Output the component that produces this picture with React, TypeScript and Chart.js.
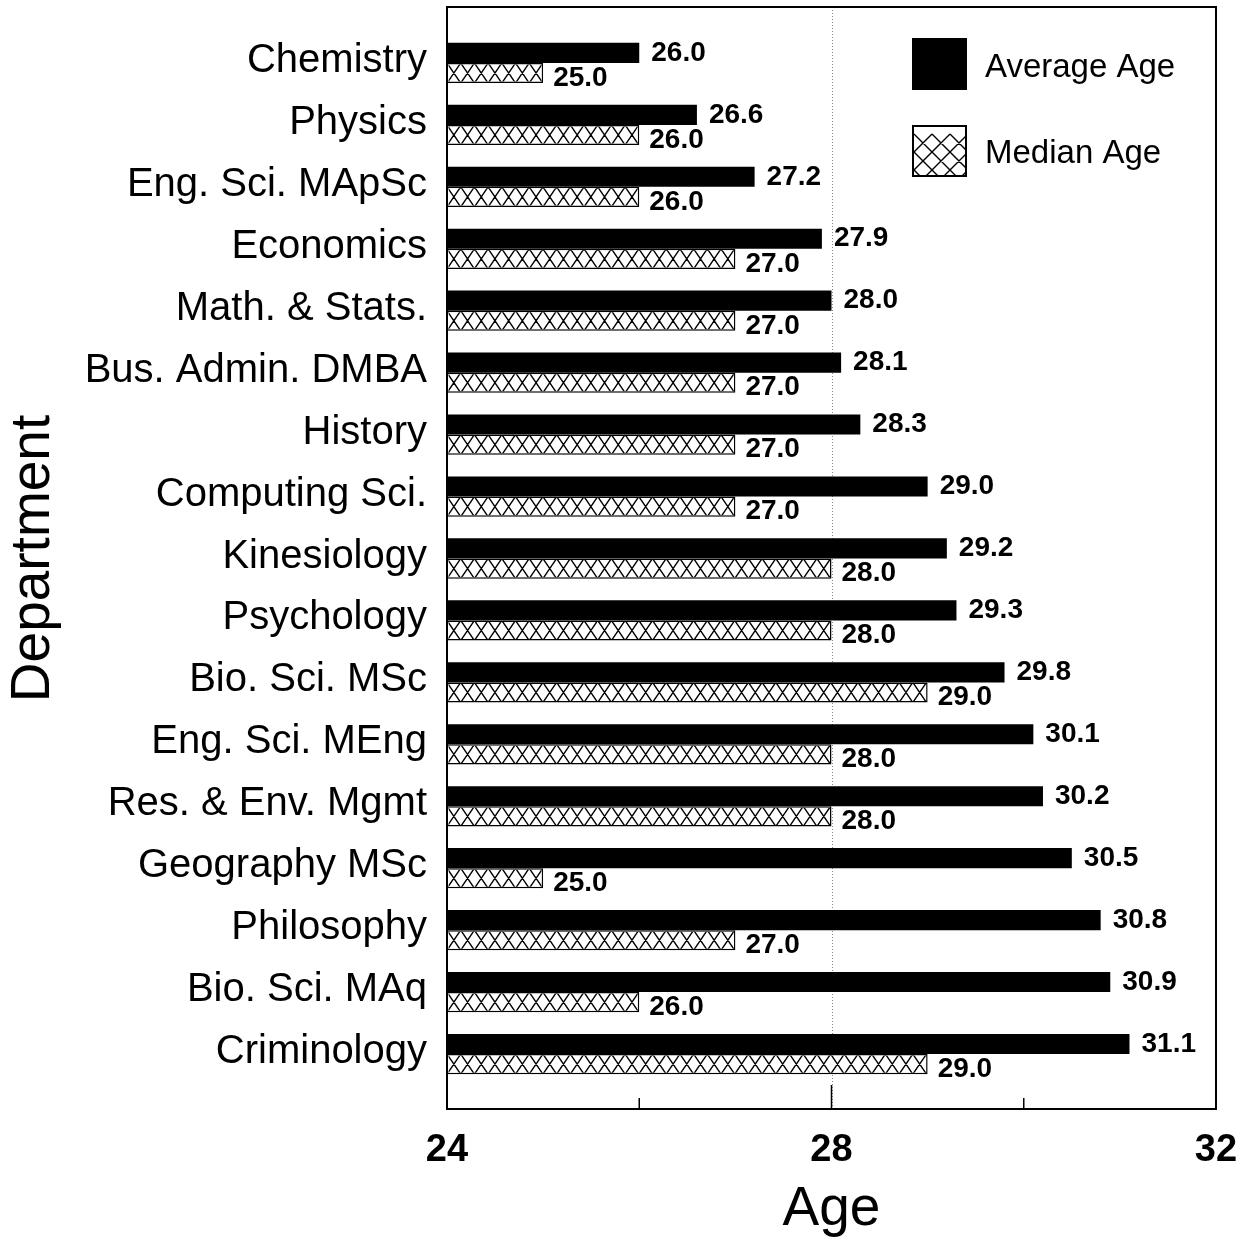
import React, { useEffect, useRef } from "react";
import { Chart, registerables } from "chart.js";

Chart.register(...registerables);

const categories = [
  "Chemistry",
  "Physics",
  "Eng. Sci. MApSc",
  "Economics",
  "Math. & Stats.",
  "Bus. Admin. DMBA",
  "History",
  "Computing Sci.",
  "Kinesiology",
  "Psychology",
  "Bio. Sci. MSc",
  "Eng. Sci. MEng",
  "Res. & Env. Mgmt",
  "Geography MSc",
  "Philosophy",
  "Bio. Sci. MAq",
  "Criminology",
];
const averageAge = [26.0, 26.6, 27.2, 27.9, 28.0, 28.1, 28.3, 29.0, 29.2, 29.3, 29.8, 30.1, 30.2, 30.5, 30.8, 30.9, 31.1];
const medianAge = [25.0, 26.0, 26.0, 27.0, 27.0, 27.0, 27.0, 27.0, 28.0, 28.0, 29.0, 28.0, 28.0, 25.0, 27.0, 26.0, 29.0];
const seriesLabels = ["Average Age", "Median Age"];
const xMin = 24;
const xMax = 32;
const xStep = 4;
const majorTickValues = [28];
const minorTickValues = [26, 30];
const dottedLineValue = 28;

const FONT = "'Liberation Sans', Arial, Helvetica, sans-serif";

function drawZigzagHatch(ctx: CanvasRenderingContext2D, left: number, top: number, right: number, bottom: number, period: number) {
  ctx.beginPath();
  for (let xs = left; xs < right; xs += period) {
    ctx.moveTo(xs, top);
    ctx.lineTo(xs + period, bottom);
    ctx.moveTo(xs, bottom);
    ctx.lineTo(xs + period, top);
  }
  ctx.stroke();
}

const overlayPlugin = {
  id: "overlay",
  beforeDatasetsDraw(chart: any) {
    const ctx = chart.ctx as CanvasRenderingContext2D;
    const xs = chart.scales.x;
    const area = chart.chartArea;
    const top = area.top - 25;
    const bottom = area.bottom + 24;
    ctx.save();
    ctx.strokeStyle = "#888";
    ctx.lineWidth = 1;
    ctx.setLineDash([1, 2]);
    const px = Math.round(xs.getPixelForValue(dottedLineValue)) + 0.5;
    ctx.beginPath();
    ctx.moveTo(px, top);
    ctx.lineTo(px, bottom);
    ctx.stroke();
    ctx.restore();
  },
  afterDatasetsDraw(chart: any) {
    const ctx = chart.ctx as CanvasRenderingContext2D;
    const xs = chart.scales.x;
    const area = chart.chartArea;
    const top = area.top - 25;
    const bottom = area.bottom + 24;
    const left = xs.getPixelForValue(xMin);
    const right = xs.getPixelForValue(xMax);

    // hatch for median bars
    const meta1 = chart.getDatasetMeta(1);
    ctx.save();
    ctx.strokeStyle = "#000";
    ctx.lineWidth = 1.4;
    meta1.data.forEach((el: any) => {
      const p = el.getProps(["x", "y", "base", "height"], true);
      const l = Math.max(Math.min(p.base, p.x), left);
      const r = Math.max(p.base, p.x);
      const t = p.y - p.height / 2;
      const b = p.y + p.height / 2;
      ctx.save();
      ctx.beginPath();
      ctx.rect(l + 1.5, t + 1.5, r - l - 3, b - t - 3);
      ctx.clip();
      drawZigzagHatch(ctx, l, t, r, b, 13.7);
      ctx.restore();
    });
    ctx.restore();

    // value labels
    ctx.save();
    ctx.fillStyle = "#000";
    ctx.font = `bold 28px ${FONT}`;
    ctx.textAlign = "left";
    ctx.textBaseline = "middle";
    [0, 1].forEach((di) => {
      const meta = chart.getDatasetMeta(di);
      const values = chart.data.datasets[di].data as number[];
      meta.data.forEach((el: any, i: number) => {
        const p = el.getProps(["x", "y"], true);
        const dx = di === 0 ? 12 : 10;
        const dy = di === 0 ? 0 : 5;
        ctx.fillText(values[i].toFixed(1), p.x + dx, p.y + dy);
      });
    });
    ctx.restore();

    // frame
    ctx.save();
    ctx.strokeStyle = "#000";
    ctx.lineWidth = 2;
    ctx.strokeRect(left, top, right - left, bottom - top);
    ctx.lineWidth = 1.5;
    ctx.beginPath();
    majorTickValues.forEach((v) => {
      const tx = xs.getPixelForValue(v);
      ctx.moveTo(tx, bottom);
      ctx.lineTo(tx, bottom - 24);
    });
    minorTickValues.forEach((v) => {
      const tx = xs.getPixelForValue(v);
      ctx.moveTo(tx, bottom);
      ctx.lineTo(tx, bottom - 11);
    });
    ctx.stroke();
    ctx.restore();

    // legend
    ctx.save();
    const lx = right - 304;
    const boxW = 55;
    const boxH = 52;
    const y1 = top + 31;
    const y2 = top + 118;
    ctx.fillStyle = "#000";
    ctx.fillRect(lx, y1, boxW, boxH);
    ctx.fillStyle = "#fff";
    ctx.fillRect(lx, y2, boxW, boxH);
    ctx.save();
    ctx.beginPath();
    ctx.rect(lx, y2, boxW, boxH);
    ctx.clip();
    ctx.strokeStyle = "#000";
    ctx.lineWidth = 1.4;
    ctx.beginPath();
    const per = 18;
    for (let c = -boxH - per; c < boxW + boxH + per; c += per) {
      ctx.moveTo(lx + c, y2 + 9);
      ctx.lineTo(lx + c + boxH + 20, y2 + 9 + boxH + 20);
      ctx.moveTo(lx + c, y2 + 9);
      ctx.lineTo(lx + c - boxH - 20, y2 + 9 + boxH + 20);
    }
    ctx.stroke();
    ctx.restore();
    ctx.strokeStyle = "#000";
    ctx.lineWidth = 2;
    ctx.strokeRect(lx + 1, y2 + 1, boxW - 2, boxH - 2);
    ctx.fillStyle = "#000";
    ctx.font = `33px ${FONT}`;
    ctx.textAlign = "left";
    ctx.textBaseline = "middle";
    ctx.fillText(chart.data.datasets[0].label, lx + 73, y1 + boxH / 2 + 4);
    ctx.fillText(chart.data.datasets[1].label, lx + 73, y2 + boxH / 2 + 3);
    ctx.restore();
  },
};

export default function App() {
  const canvasRef = useRef<HTMLCanvasElement | null>(null);

  useEffect(() => {
    if (!canvasRef.current) return;
    Chart.defaults.font.family = FONT;
    Chart.defaults.color = "#000";
    const chart = new Chart(canvasRef.current, {
      type: "bar",
      data: {
        labels: categories,
        datasets: [
          {
            label: seriesLabels[0],
            data: averageAge,
            base: xMin,
            backgroundColor: "#000",
            borderWidth: 0,
            barPercentage: 1,
            categoryPercentage: 0.65,
          },
          {
            label: seriesLabels[1],
            data: medianAge,
            base: xMin,
            backgroundColor: "#fff",
            borderColor: "#000",
            borderWidth: 1.5,
            barPercentage: 1,
            categoryPercentage: 0.65,
          },
        ],
      },
      options: {
        indexAxis: "y",
        responsive: false,
        maintainAspectRatio: false,
        devicePixelRatio: 1,
        animation: false,
        layout: { padding: { top: 32, right: 34, left: 0, bottom: 0 } },
        plugins: {
          legend: { display: false },
          tooltip: { enabled: false },
        },
        scales: {
          x: {
            type: "linear",
            min: xMin,
            max: xMax,
            grid: { display: false, drawTicks: true, tickLength: 43 },
            border: { display: false },
            ticks: {
              stepSize: xStep,
              padding: 0,
              font: { size: 38, weight: "bold" },
              color: "#000",
            },
            title: {
              display: true,
              text: "Age",
              font: { size: 55, lineHeight: 1 },
              color: "#000",
              padding: { top: 0, bottom: 3 },
            },
            afterFit: (scale: any) => {
              scale.height = 155;
            },
          },
          y: {
            type: "category",
            grid: { display: false, drawTicks: true, tickLength: 20 },
            border: { display: false },
            ticks: {
              padding: 0,
              labelOffset: -2,
              font: { size: 40 },
              color: "#000",
              autoSkip: false,
            },
            title: {
              display: true,
              text: "Department",
              font: { size: 55, lineHeight: 1 },
              color: "#000",
              padding: { top: 6, bottom: 0 },
            },
            afterFit: (scale: any) => {
              scale.width = 447;
            },
          },
        },
      },
      plugins: [overlayPlugin],
    } as any);
    return () => chart.destroy();
  }, []);

  return (
    <div style={{ position: "fixed", left: 0, top: 0, width: 1250, height: 1240, background: "#fff" }}>
      <canvas ref={canvasRef} width={1250} height={1240} style={{ display: "block" }} />
    </div>
  );
}
